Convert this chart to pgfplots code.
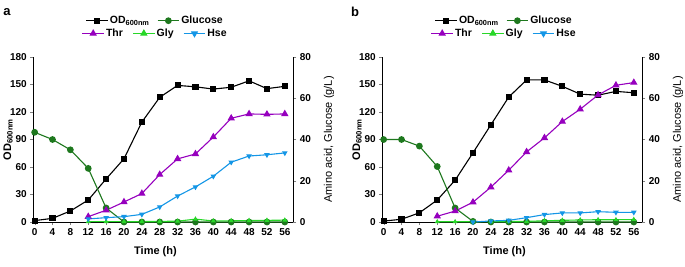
\documentclass[border=0pt]{standalone}
\usepackage{fontspec}
\setmainfont{Liberation Sans}
\usepackage{pgfplots}
\pgfplotsset{compat=1.18}
\definecolor{cGlc}{RGB}{30,120,30}
\definecolor{cThr}{RGB}{150,0,190}
\definecolor{cGly}{RGB}{40,215,40}
\definecolor{cHse}{RGB}{20,150,230}
\pgfplotsset{
  base/.style={scale only axis, width=260pt, height=165pt, clip=false,
    xmin=-0.3, xmax=57.9, tick align=outside, major tick length=3pt,
    /pgf/number format/assume math mode=true,
    tick label style={font=\fontsize{10}{12}\selectfont\bfseries},
    legend style={draw=none, fill=none, inner sep=0pt, anchor=center,
      font=\fontsize{10.5}{12}\selectfont\bfseries,
      nodes={inner sep=1.5pt},
      /tikz/every even column/.append style={column sep=6pt}},
    legend image code/.code={\draw[mark repeat=2,mark phase=2] plot coordinates {(0cm,0cm)(0.38cm,0cm)(0.76cm,0cm)};},
    every axis plot/.append style={line width=1.1pt},
  },
  leftax/.style={base, axis y line*=left, axis x line*=bottom,
    ymin=0, ymax=180, ytick={0,30,...,180}, xtick={0,4,...,56},
    xlabel={\fontsize{11}{12}\selectfont\bfseries Time (h)},
    xlabel style={at={(axis description cs:0.47,-0.182)}, anchor=center},
    ylabel={\fontsize{11}{12}\selectfont\bfseries OD\textsubscript{600nm}},
    ylabel style={at={(axis description cs:-0.097,0.5)}, anchor=center, rotate=0},
    legend columns=2, legend style={at={(0.468,1.22)}}},
  rightax/.style={base, axis y line*=right, axis x line=none,
    ymin=0, ymax=80, ytick={0,20,...,80},
    ylabel={\fontsize{11}{12}\selectfont Amino acid, Glucose (g/L)},
    ylabel style={at={(axis description cs:1.137,0.5)}, anchor=center, rotate=0},
    legend columns=3, legend style={at={(0.468,1.143)}, /tikz/every even column/.append style={column sep=8pt}}},
  ODst/.style={black, mark=square*, mark size=2.5pt, mark options={solid}},
  Glcst/.style={cGlc, mark=*, mark size=2.8pt},
  Thrst/.style={cThr, mark=triangle*, mark size=3.2pt},
  Glyst/.style={cGly, mark=triangle*, mark size=1.8pt},
  GlyLeg/.style={cGly, mark=triangle*, mark size=3.2pt, line width=1.1pt},
  Hsest/.style={cHse, mark=triangle*, mark size=2.2pt, mark options={rotate=180}},
  HseLeg/.style={cHse, mark=triangle*, mark size=3.2pt, mark options={rotate=180}, line width=1.1pt},
}
\begin{document}
\begin{tikzpicture}
\useasboundingbox (0,0) rectangle (685pt,266pt);
\node[anchor=center, font=\fontsize{13}{14}\selectfont\bfseries] at (7pt,254pt) {a};
\node[anchor=center, font=\fontsize{13}{14}\selectfont\bfseries] at (355pt,254pt) {b};
% ---------- panel a ----------
\begin{axis}[leftax, at={(33.3pt,44pt)}, anchor=south west]
\addplot[ODst] coordinates {(0,1.5)(4,4)(8,12)(12,24)(16,47)(20,69)(24,109)(28,136)(32,149)(36,147.5)(40,145)(44,147)(48,154)(52,145.5)(56,148)};
\addlegendentry{OD\textsubscript{600nm}}
\addlegendimage{Glcst, line width=1.1pt}
\addlegendentry{Glucose}
\end{axis}
\begin{axis}[rightax, at={(33.3pt,44pt)}, anchor=south west]
\addplot[Glcst, forget plot] coordinates {(0,43.5)(4,40)(8,35)(12,26)(16,6.8)(20,0)(24,0)(28,0)(32,0)(36,0)(40,0)(44,0)(48,0)(52,0)(56,0)};
\addplot[Thrst] coordinates {(12,2.6)(16,5.7)(20,9.7)(24,13.8)(28,23)(32,30.6)(36,33)(40,41.2)(44,50.3)(48,52.4)(52,52.2)(56,52.4)};
\addlegendentry{Thr}
\addplot[Glyst, forget plot] coordinates {(12,0.2)(16,0.2)(20,0.2)(24,0.2)(28,0.3)(32,0.4)(36,1.4)(40,0.5)(44,0.6)(48,0.7)(52,0.8)(56,0.9)};
\addlegendimage{GlyLeg}
\addlegendentry{Gly}
\addplot[Hsest, forget plot] coordinates {(12,1.5)(16,2.1)(20,2.6)(24,3.7)(28,7.3)(32,12.6)(36,17)(40,22.2)(44,29)(48,32)(52,32.6)(56,33.5)};
\addlegendimage{HseLeg}
\addlegendentry{Hse}
\end{axis}
% ---------- panel b ----------
\begin{axis}[leftax, at={(382.3pt,44pt)}, anchor=south west]
\addplot[ODst] coordinates {(0,1)(4,3)(8,10)(12,24)(16,45.6)(20,75.5)(24,106)(28,136.3)(32,155)(36,155)(40,148)(44,139.5)(48,138.3)(52,142.5)(56,141)};
\addlegendentry{OD\textsubscript{600nm}}
\addlegendimage{Glcst, line width=1.1pt}
\addlegendentry{Glucose}
\end{axis}
\begin{axis}[rightax, at={(382.3pt,44pt)}, anchor=south west]
\addplot[Glcst, forget plot] coordinates {(0,40)(4,40)(8,36.8)(12,26.9)(16,6.8)(20,0.3)(24,0)(28,0)(32,0)(36,0)(40,0)(44,0)(48,0)(52,0)(56,0)};
\addplot[Thrst] coordinates {(12,2.8)(16,5.3)(20,9.6)(24,16.9)(28,25.1)(32,34)(36,40.8)(40,48.7)(44,54.7)(48,61.6)(52,66.3)(56,67.6)};
\addlegendentry{Thr}
\addplot[Glyst, forget plot] coordinates {(12,0.1)(16,0.1)(20,0.1)(24,0.2)(28,0.2)(32,0.3)(36,0.6)(40,0.8)(44,1.0)(48,1.1)(52,1.1)(56,1.2)};
\addlegendimage{GlyLeg}
\addlegendentry{Gly}
\addplot[Hsest, forget plot] coordinates {(20,0)(24,0.5)(28,0.8)(32,2.1)(36,3.6)(40,4.4)(44,4.4)(48,5)(52,4.7)(56,4.7)};
\addlegendimage{HseLeg}
\addlegendentry{Hse}
\end{axis}
\end{tikzpicture}
\end{document}
